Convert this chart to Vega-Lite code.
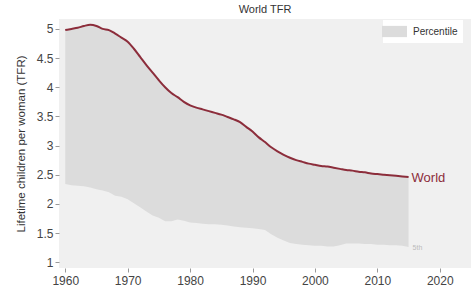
{
  "$schema": "https://vega.github.io/schema/vega-lite/v6.json",
  "width": 412,
  "height": 249,
  "autosize": {"type": "none"},
  "padding": {"left": 59, "top": 19, "right": 0, "bottom": 30},
  "background": "white",
  "config": {
    "font": "Liberation Sans",
    "view": {"fill": "#f0f0f0", "stroke": null},
    "axis": {"grid": false, "domain": false, "tickColor": "#999999", "tickSize": 4, "labelColor": "#444444", "labelFontSize": 12, "labelOverlap": false, "titleColor": "#333333", "titleFontWeight": "normal"},
    "axisY": {"values": [1, 1.5, 2, 2.5, 3, 3.5, 4, 4.5, 5], "format": "~g", "titleFontSize": 11.5, "titlePadding": 10, "labelPadding": 2}
  },
  "title": {"text": "World TFR", "fontSize": 11, "fontWeight": "normal", "color": "#333333", "offset": 4, "anchor": "middle", "frame": "group"},
  "data": {"values": [
    {"year": 1960, "world": 4.98, "p5": 2.34},
    {"year": 1961, "world": 5.00, "p5": 2.32},
    {"year": 1962, "world": 5.02, "p5": 2.31},
    {"year": 1963, "world": 5.05, "p5": 2.30},
    {"year": 1964, "world": 5.07, "p5": 2.28},
    {"year": 1965, "world": 5.05, "p5": 2.25},
    {"year": 1966, "world": 5.00, "p5": 2.23},
    {"year": 1967, "world": 4.98, "p5": 2.20},
    {"year": 1968, "world": 4.92, "p5": 2.14},
    {"year": 1969, "world": 4.85, "p5": 2.12},
    {"year": 1970, "world": 4.78, "p5": 2.08},
    {"year": 1971, "world": 4.66, "p5": 2.01},
    {"year": 1972, "world": 4.52, "p5": 1.94},
    {"year": 1973, "world": 4.38, "p5": 1.87},
    {"year": 1974, "world": 4.25, "p5": 1.80},
    {"year": 1975, "world": 4.12, "p5": 1.76},
    {"year": 1976, "world": 4.00, "p5": 1.70},
    {"year": 1977, "world": 3.90, "p5": 1.70},
    {"year": 1978, "world": 3.83, "p5": 1.73},
    {"year": 1979, "world": 3.75, "p5": 1.71},
    {"year": 1980, "world": 3.69, "p5": 1.68},
    {"year": 1981, "world": 3.65, "p5": 1.67},
    {"year": 1982, "world": 3.62, "p5": 1.66},
    {"year": 1983, "world": 3.59, "p5": 1.65},
    {"year": 1984, "world": 3.56, "p5": 1.65},
    {"year": 1985, "world": 3.53, "p5": 1.64},
    {"year": 1986, "world": 3.49, "p5": 1.63},
    {"year": 1987, "world": 3.45, "p5": 1.61},
    {"year": 1988, "world": 3.40, "p5": 1.60},
    {"year": 1989, "world": 3.32, "p5": 1.59},
    {"year": 1990, "world": 3.24, "p5": 1.58},
    {"year": 1991, "world": 3.14, "p5": 1.57},
    {"year": 1992, "world": 3.06, "p5": 1.55},
    {"year": 1993, "world": 2.97, "p5": 1.48},
    {"year": 1994, "world": 2.90, "p5": 1.42},
    {"year": 1995, "world": 2.84, "p5": 1.37},
    {"year": 1996, "world": 2.79, "p5": 1.33},
    {"year": 1997, "world": 2.75, "p5": 1.31},
    {"year": 1998, "world": 2.72, "p5": 1.30},
    {"year": 1999, "world": 2.69, "p5": 1.29},
    {"year": 2000, "world": 2.67, "p5": 1.28},
    {"year": 2001, "world": 2.65, "p5": 1.28},
    {"year": 2002, "world": 2.64, "p5": 1.27},
    {"year": 2003, "world": 2.62, "p5": 1.27},
    {"year": 2004, "world": 2.60, "p5": 1.29},
    {"year": 2005, "world": 2.58, "p5": 1.32},
    {"year": 2006, "world": 2.57, "p5": 1.32},
    {"year": 2007, "world": 2.55, "p5": 1.32},
    {"year": 2008, "world": 2.54, "p5": 1.31},
    {"year": 2009, "world": 2.52, "p5": 1.31},
    {"year": 2010, "world": 2.51, "p5": 1.30},
    {"year": 2011, "world": 2.50, "p5": 1.30},
    {"year": 2012, "world": 2.49, "p5": 1.29},
    {"year": 2013, "world": 2.48, "p5": 1.29},
    {"year": 2014, "world": 2.47, "p5": 1.28},
    {"year": 2015, "world": 2.46, "p5": 1.26}
  ]},
  "encoding": {
    "x": {"field": "year", "type": "quantitative", "scale": {"domain": [1959, 2025], "nice": false, "zero": false},
          "axis": {"values": [1960, 1970, 1980, 1990, 2000, 2010, 2020], "format": "d", "title": null, "labelPadding": 3, "tickSize": 4}}
  },
  "layer": [
    {
      "mark": {"type": "area", "interpolate": "linear"},
      "encoding": {
        "y": {"field": "p5", "type": "quantitative", "scale": {"domain": [0.9, 5.17], "nice": false, "zero": false},
              "title": "Lifetime children per woman (TFR)"},
        "y2": {"field": "world"},
        "fill": {"datum": "Percentile", "type": "nominal",
                 "scale": {"range": ["#dcdcdc"]},
                 "legend": {"title": null, "orient": "none", "legendX": 324, "legendY": 1,
                            "fillColor": "white", "padding": 5,
                            "symbolType": "M-2,-0.9H2V0.9H-2Z", "symbolSize": 156, "symbolStrokeWidth": 0,
                            "labelFontSize": 10, "labelColor": "#333333", "labelOffset": 12}}
      }
    },
    {
      "mark": {"type": "line", "interpolate": "monotone", "color": "#8c2d3b", "strokeWidth": 2},
      "encoding": {"y": {"field": "world", "type": "quantitative", "title": "Lifetime children per woman (TFR)"}}
    },
    {
      "transform": [{"filter": "datum.year == 2015"}],
      "mark": {"type": "text", "align": "left", "baseline": "middle", "dx": 3, "dy": 1, "fontSize": 13, "color": "#8c2d3b"},
      "encoding": {"y": {"field": "world", "type": "quantitative", "title": "Lifetime children per woman (TFR)"}, "text": {"value": "World"}}
    },
    {
      "transform": [{"filter": "datum.year == 2015"}],
      "mark": {"type": "text", "align": "left", "baseline": "middle", "dx": 4, "dy": 1, "fontSize": 7, "color": "#bbbbbb"},
      "encoding": {"y": {"field": "p5", "type": "quantitative", "title": "Lifetime children per woman (TFR)"}, "text": {"value": "5th"}}
    }
  ]
}
